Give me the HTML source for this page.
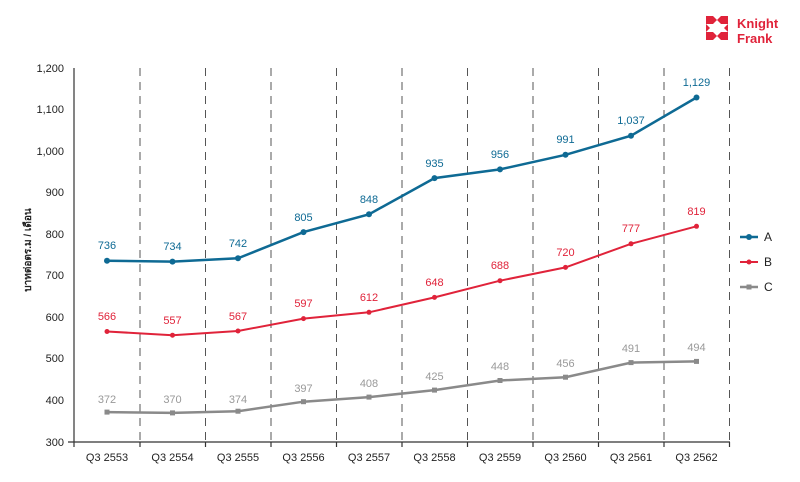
<!DOCTYPE html><html><head><meta charset="utf-8"><style>body{margin:0;background:#fff}svg{display:block;font-family:"Liberation Sans","Noto Sans CJK SC",sans-serif}</style></head><body>
<svg width="800" height="482" viewBox="0 0 800 482">
<g stroke="#555" stroke-width="1" stroke-dasharray="8,6">
<line x1="140" y1="68" x2="140" y2="442"/><line x1="205.5" y1="68" x2="205.5" y2="442"/><line x1="271" y1="68" x2="271" y2="442"/><line x1="336.5" y1="68" x2="336.5" y2="442"/><line x1="402" y1="68" x2="402" y2="442"/><line x1="467.5" y1="68" x2="467.5" y2="442"/><line x1="533" y1="68" x2="533" y2="442"/><line x1="598.5" y1="68" x2="598.5" y2="442"/><line x1="664" y1="68" x2="664" y2="442"/><line x1="729.5" y1="68" x2="729.5" y2="442"/>
</g>
<g stroke="#333" stroke-width="1.2">
<line x1="74" y1="68" x2="74" y2="442"/><line x1="68" y1="442" x2="730" y2="442"/>
<line x1="74" y1="442" x2="74" y2="447"/><line x1="140" y1="442" x2="140" y2="447"/><line x1="205.5" y1="442" x2="205.5" y2="447"/><line x1="271" y1="442" x2="271" y2="447"/><line x1="336.5" y1="442" x2="336.5" y2="447"/><line x1="402" y1="442" x2="402" y2="447"/><line x1="467.5" y1="442" x2="467.5" y2="447"/><line x1="533" y1="442" x2="533" y2="447"/><line x1="598.5" y1="442" x2="598.5" y2="447"/><line x1="664" y1="442" x2="664" y2="447"/><line x1="729.5" y1="442" x2="729.5" y2="447"/>
</g>
<g font-size="11" fill="#222" text-anchor="end">
<text x="64" y="72">1,200</text><text x="64" y="113">1,100</text><text x="64" y="155">1,000</text><text x="64" y="196">900</text><text x="64" y="238">800</text><text x="64" y="279">700</text><text x="64" y="321">600</text><text x="64" y="362">500</text><text x="64" y="404">400</text><text x="64" y="446">300</text>
</g>
<g font-size="11" fill="#222" text-anchor="middle">
<text x="107" y="461">Q3 2553</text><text x="172.5" y="461">Q3 2554</text><text x="238" y="461">Q3 2555</text><text x="303.5" y="461">Q3 2556</text><text x="369" y="461">Q3 2557</text><text x="434.5" y="461">Q3 2558</text><text x="500" y="461">Q3 2559</text><text x="565.5" y="461">Q3 2560</text><text x="631" y="461">Q3 2561</text><text x="696.5" y="461">Q3 2562</text>
</g>
<text transform="translate(31,250) rotate(-90)" font-size="10" font-weight="bold" fill="#222" text-anchor="middle">บาทต่อตร.ม / เดือน</text>
<polyline fill="none" stroke="#0e6a94" stroke-width="2.5" points="107,260.8 172.5,261.6 238,258.3 303.5,232.1 369,214.3 434.5,178.1 500,169.4 565.5,154.8 631,135.7 696.5,97.5"/>
<g fill="#0e6a94"><circle cx="107" cy="260.8" r="3"/><circle cx="172.5" cy="261.6" r="3"/><circle cx="238" cy="258.3" r="3"/><circle cx="303.5" cy="232.1" r="3"/><circle cx="369" cy="214.3" r="3"/><circle cx="434.5" cy="178.1" r="3"/><circle cx="500" cy="169.4" r="3"/><circle cx="565.5" cy="154.8" r="3"/><circle cx="631" cy="135.7" r="3"/><circle cx="696.5" cy="97.5" r="3"/></g>
<g fill="#0e6a94" font-size="11" text-anchor="middle"><text x="107" y="249">736</text><text x="172.5" y="250">734</text><text x="238" y="247">742</text><text x="303.5" y="221">805</text><text x="369" y="203">848</text><text x="434.5" y="167">935</text><text x="500" y="158">956</text><text x="565.5" y="143">991</text><text x="631" y="124">1,037</text><text x="696.5" y="86">1,129</text></g>
<polyline fill="none" stroke="#e0233a" stroke-width="2" points="107,331.5 172.5,335.2 238,331 303.5,318.6 369,312.3 434.5,297.4 500,280.7 565.5,267.4 631,243.8 696.5,226.3"/>
<g fill="#e0233a"><circle cx="107" cy="331.5" r="2.5"/><circle cx="172.5" cy="335.2" r="2.5"/><circle cx="238" cy="331" r="2.5"/><circle cx="303.5" cy="318.6" r="2.5"/><circle cx="369" cy="312.3" r="2.5"/><circle cx="434.5" cy="297.4" r="2.5"/><circle cx="500" cy="280.7" r="2.5"/><circle cx="565.5" cy="267.4" r="2.5"/><circle cx="631" cy="243.8" r="2.5"/><circle cx="696.5" cy="226.3" r="2.5"/></g>
<g fill="#e0233a" font-size="11" text-anchor="middle"><text x="107" y="320">566</text><text x="172.5" y="324">557</text><text x="238" y="320">567</text><text x="303.5" y="307">597</text><text x="369" y="301">612</text><text x="434.5" y="286">648</text><text x="500" y="269">688</text><text x="565.5" y="256">720</text><text x="631" y="232">777</text><text x="696.5" y="215">819</text></g>
<polyline fill="none" stroke="#8a8a8a" stroke-width="2.5" points="107,412.1 172.5,412.9 238,411.2 303.5,401.7 369,397.1 434.5,390.1 500,380.5 565.5,377.2 631,362.6 696.5,361.4"/>
<g fill="#8a8a8a"><rect x="104.5" y="409.6" width="5" height="5"/><rect x="170" y="410.4" width="5" height="5"/><rect x="235.5" y="408.7" width="5" height="5"/><rect x="301" y="399.2" width="5" height="5"/><rect x="366.5" y="394.6" width="5" height="5"/><rect x="432" y="387.6" width="5" height="5"/><rect x="497.5" y="378" width="5" height="5"/><rect x="563" y="374.7" width="5" height="5"/><rect x="628.5" y="360.1" width="5" height="5"/><rect x="694" y="358.9" width="5" height="5"/></g>
<g fill="#999" font-size="11" text-anchor="middle"><text x="107" y="403">372</text><text x="172.5" y="403">370</text><text x="238" y="403">374</text><text x="303.5" y="392">397</text><text x="369" y="387">408</text><text x="434.5" y="380">425</text><text x="500" y="370">448</text><text x="565.5" y="367">456</text><text x="631" y="352">491</text><text x="696.5" y="351">494</text></g>
<line x1="740" y1="237" x2="758" y2="237" stroke="#0e6a94" stroke-width="2.5"/><circle cx="749" cy="237" r="3" fill="#0e6a94"/>
<line x1="740" y1="262" x2="758" y2="262" stroke="#e0233a" stroke-width="2"/><circle cx="749" cy="262" r="2.5" fill="#e0233a"/>
<line x1="740" y1="287" x2="758" y2="287" stroke="#8a8a8a" stroke-width="2.5"/><rect x="746.5" y="284.5" width="5" height="5" fill="#8a8a8a"/>
<g font-size="12" fill="#222"><text x="764" y="241">A</text><text x="764" y="266">B</text><text x="764" y="291">C</text></g>
<g fill="#e0233a">
<polygon points="706,16 713,16 717,20 713,24 706,24 706,16"/>
<polygon points="728,16 721,16 717,20 721,24 728,24"/>
<polygon points="706,40 713,40 717,36 713,32 706,32"/>
<polygon points="728,40 721,40 717,36 721,32 728,32"/>
<polygon points="706,24 710,28 706,32"/><polygon points="728,24 724,28 728,32"/>
<text x="737" y="28" font-size="13" font-weight="bold">Knight</text>
<text x="737" y="43" font-size="13" font-weight="bold">Frank</text>
</g>
</svg></body></html>
